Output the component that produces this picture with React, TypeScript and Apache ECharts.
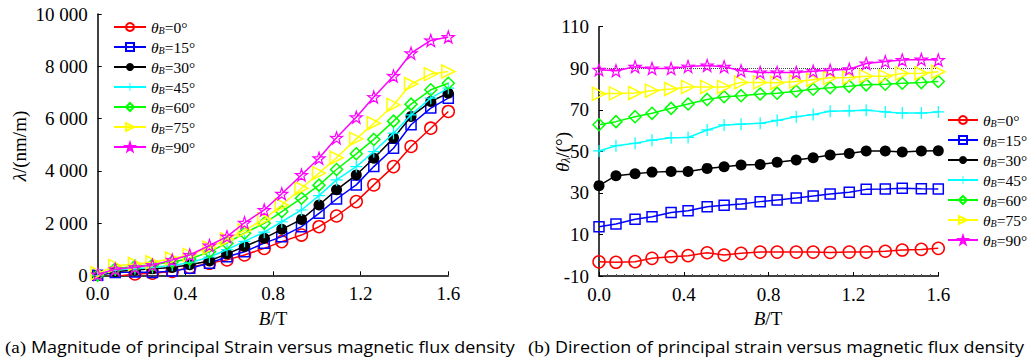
import React, { useEffect, useRef } from "react";
import * as echarts from "echarts";

// Magnetic flux density B (T) at each measured point
const B = [0, 0.08, 0.17, 0.25, 0.34, 0.42, 0.51, 0.59, 0.67, 0.76, 0.84, 0.93, 1.01, 1.09, 1.18, 1.26, 1.35, 1.43, 1.52, 1.6];

// Field angles θB (degrees)
const ANGLES = [0, 15, 30, 45, 60, 75, 90];

// (a) principal strain magnitude λ, nm/m
const lam0 = [-50, -50, 50, 80, 150, 300, 460, 590, 780, 1030, 1290, 1540, 1860, 2270, 2820, 3460, 4160, 4930, 5630, 6270];
const lam15 = [0, 110, 130, 110, 160, 270, 460, 710, 900, 1230, 1480, 1860, 2370, 2920, 3460, 4160, 4860, 5760, 6400, 6780];
const lam30 = [0, 150, 200, 250, 300, 400, 550, 820, 1100, 1420, 1760, 2140, 2690, 3270, 3840, 4480, 5250, 6080, 6650, 6970];
const lam45 = [0, 200, 250, 300, 380, 480, 700, 980, 1300, 1650, 2050, 2500, 3050, 3650, 4160, 4730, 5440, 6140, 6780, 7160];
const lam60 = [0, 250, 350, 400, 520, 620, 900, 1230, 1610, 1990, 2440, 2950, 3450, 4050, 4650, 5200, 5900, 6550, 7100, 7350];
const lam75 = [80, 360, 430, 500, 640, 780, 1060, 1380, 1720, 2150, 2690, 3330, 3910, 4500, 5220, 5820, 6520, 7320, 7700, 7800];
const lam90 = [30, 230, 310, 390, 590, 780, 1140, 1480, 2010, 2500, 3120, 3840, 4480, 5260, 6050, 6820, 7630, 8500, 8990, 9120];

// (b) principal strain direction θλ, degrees
const dir0 = [-3.2, -3.4, -3.1, -1.5, -0.7, -0.2, 1.2, 0.1, 0.9, 1.5, 1.5, 1.5, 1.5, 1.3, 1.5, 1.5, 1.9, 2.5, 2.8, 3.3];
const dir15 = [13.7, 15.0, 17.3, 18.5, 20.6, 21.4, 23.3, 24.0, 24.6, 25.8, 26.6, 27.5, 28.5, 29.5, 30.3, 31.7, 31.9, 32.2, 32.0, 31.9];
const dir30 = [33.5, 38.3, 39.2, 40.0, 40.3, 40.3, 41.8, 42.6, 43.4, 43.7, 44.7, 45.8, 46.9, 48.2, 49.0, 50.2, 50.2, 49.7, 50.2, 50.3];
const dir45 = [50.2, 52.7, 53.9, 55.4, 56.6, 56.7, 60.3, 62.7, 63.1, 63.5, 64.9, 66.7, 67.7, 69.3, 69.5, 69.8, 69.0, 68.4, 68.4, 69.0];
const dir60 = [62.8, 64.3, 66.7, 68.3, 70.7, 72.8, 75.0, 76.3, 76.8, 77.6, 78.0, 78.9, 79.9, 80.6, 81.3, 82.0, 82.3, 82.8, 83.1, 83.6];
const dir75 = [77.7, 77.9, 78.1, 79.2, 80.0, 81.0, 81.0, 81.0, 83.2, 83.2, 83.0, 83.6, 84.5, 85.4, 85.5, 86.2, 86.2, 87.5, 87.6, 88.3];
const dir90 = [89.3, 88.8, 90.7, 89.9, 89.9, 90.8, 91.3, 90.7, 88.8, 88.0, 88.0, 88.0, 88.6, 89.0, 89.5, 92.3, 93.2, 94.0, 94.2, 94.0];

// Reference line for θλ
const REF_ANGLE = 90;

const magnitude = [lam0, lam15, lam30, lam45, lam60, lam75, lam90];
const direction = [dir0, dir15, dir30, dir45, dir60, dir75, dir90];

const COLORS = ["#ff0000", "#0000ff", "#000000", "#00ffff", "#00ff00", "#ffff00", "#ff00ff"];

const STAR =
  "path://M50,0 L61.8,35.1 L97.6,34.5 L69,56 L79.4,90.5 L50,70 L20.6,90.5 L31,56 L2.4,34.5 L38.2,35.1 Z";
const PLUS = "path://M45,0H55V45H100V55H55V100H45V55H0V45H45Z";

const SERIF = "Liberation Serif";
const SANS = "Open Sans";

type Mark = { symbol: string; size: number; hollow: boolean; rotate?: number; border?: number };
const MARKS: Mark[] = [
  { symbol: "circle", size: 12, hollow: true },
  { symbol: "rect", size: 10, hollow: true },
  { symbol: "circle", size: 11, hollow: false },
  { symbol: PLUS, size: 12, hollow: false },
  { symbol: "diamond", size: 12, hollow: true },
  { symbol: "triangle", size: 13, hollow: true, rotate: -90 },
  { symbol: STAR, size: 12, hollow: true, border: 1.2 },
];

const tok = (size: number, italic = false, extra: any = {}) => ({
  fontFamily: SERIF,
  fontStyle: italic ? "italic" : "normal",
  fontSize: size,
  fill: "#000",
  color: "#000",
  ...extra,
});

const legendRich = {
  t: tok(15.5, true, { lineHeight: 17 }),
  s: tok(10, true, { lineHeight: 10, verticalAlign: "bottom" }),
  n: tok(15.5, false, { lineHeight: 17 }),
};

function legendLabel(name: string) {
  return `{t|θ}{s|B}{n|=${name.slice(1)}°}`;
}

function thousands(v: number) {
  if (v < 1000) return String(v);
  const k = Math.floor(v / 1000);
  const r = String(v % 1000).padStart(3, "0");
  return `${k} ${r}`;
}

function measure(parts: [string, string][]) {
  const ctx = document.createElement("canvas").getContext("2d");
  if (!ctx) return 0;
  let w = 0;
  for (const [text, font] of parts) {
    ctx.font = font;
    w += ctx.measureText(text).width;
  }
  return w;
}

function buildSeries(prefix: string, data: number[][], axisIndex: number) {
  return data.map((vals, i) => {
    const m = MARKS[i];
    const c = COLORS[i];
    const s: any = {
      type: "line",
      name: `${prefix}${ANGLES[i]}`,
      xAxisIndex: axisIndex,
      yAxisIndex: axisIndex,
      data: vals.map((v, j) => [B[j], v]),
      symbol: m.symbol,
      symbolSize: m.size,
      symbolRotate: m.rotate ?? 0,
      showAllSymbol: true,
      lineStyle: { color: c, width: 1.5 },
      itemStyle: m.hollow
        ? { color: "rgba(255,255,255,0)", borderColor: c, borderWidth: m.border ?? 1.5 }
        : { color: c, borderWidth: 0 },
      emphasis: { disabled: true },
      z: 3 + i,
    };
    return s;
  });
}

export default function App() {
  const ref = useRef<HTMLDivElement>(null);

  useEffect(() => {
    if (!ref.current) return;
    document.body.style.margin = "0";
    const chart = echarts.init(ref.current, undefined, { renderer: "svg" });

    const capA: [string, string][] = [
      ["(a) ", `17px "${SERIF}"`],
      ["Magnitude of principal Strain versus magnetic flux density", `16px "${SANS}"`],
    ];
    const capB: [string, string][] = [
      ["(b) ", `17px "${SERIF}"`],
      ["Direction of principal strain versus magnetic flux density", `16px "${SANS}"`],
    ];
    const wA = measure(capA) || 510;
    const wB = measure(capB) || 496;

    const capRich = {
      p: { fontFamily: SERIF, fontSize: 17, fill: "#000" },
      c: { fontFamily: SANS, fontSize: 16, fill: "#000" },
    };

    const axisLine = { show: true, onZero: false, lineStyle: { color: "#000", width: 1.5 } };
    const axisLabel = { color: "#000", fontFamily: SERIF, fontSize: 19 };

    const leftSeries = buildSeries("a", magnitude, 0);
    const rightSeries = buildSeries("b", direction, 1);
    rightSeries[0].markLine = {
      silent: true,
      symbol: "none",
      label: { show: false },
      lineStyle: { type: "dotted", color: "#444", width: 1 },
      emphasis: { disabled: true },
      data: [{ yAxis: REF_ANGLE }],
    };

    const legendBase = {
      orient: "vertical",
      itemHeight: 10,
      itemGap: 3.5,
      formatter: legendLabel,
      textStyle: { fontFamily: SERIF, fontSize: 15.5, color: "#000", rich: legendRich },
      selectedMode: false,
    };

    const option: any = {
      animation: false,
      backgroundColor: "#fff",
      textStyle: { fontFamily: SERIF },
      grid: [
        { left: 97.7, top: 14, width: 350.6, height: 261.3 },
        { left: 599, top: 26.7, width: 339.3, height: 249.3 },
      ],
      xAxis: [0, 1].map((g) => ({
        type: "value",
        gridIndex: g,
        min: 0,
        max: 1.6,
        interval: 0.4,
        axisLine,
        axisTick: { show: true, inside: true, length: 4, lineStyle: { color: "#000" } },
        minorTick: g === 1 ? { show: true, splitNumber: 10, length: 2, lineStyle: { color: "#555" } } : { show: false },
        splitLine: { show: false },
        axisLabel: { ...axisLabel, margin: 9, formatter: (v: number) => v.toFixed(1) },
      })),
      yAxis: [
        {
          type: "value",
          gridIndex: 0,
          min: 0,
          max: 10000,
          interval: 2000,
          axisLine,
          axisTick: { show: true, inside: true, length: 4, lineStyle: { color: "#000" } },
          splitLine: { show: false },
          axisLabel: { ...axisLabel, margin: 10, formatter: thousands },
        },
        {
          type: "value",
          gridIndex: 1,
          min: -10,
          max: 110,
          interval: 20,
          axisLine,
          axisTick: { show: true, inside: true, length: 4, lineStyle: { color: "#000" } },
          splitLine: { show: false },
          axisLabel: { ...axisLabel, margin: 10 },
        },
      ],
      legend: [
        { ...legendBase, left: 108, top: 14, itemWidth: 32, data: ANGLES.map((a) => `a${a}`) },
        { ...legendBase, left: 942, top: 107, itemWidth: 30, data: ANGLES.map((a) => `b${a}`) },
      ],
      graphic: [
        {
          type: "text",
          x: 19,
          y: 146,
          rotation: Math.PI / 2,
          style: {
            text: "{i|λ}{n|/(nm/m)}",
            fontFamily: SERIF,
            fontSize: 19,
            fill: "#000",
            align: "center",
            verticalAlign: "middle",
            rich: { i: tok(19, true), n: tok(19) },
          },
        },
        {
          type: "text",
          x: 562,
          y: 152,
          rotation: Math.PI / 2,
          style: {
            text: "{i|θ}{s|λ}{n|/(°)}",
            fontFamily: SERIF,
            fontSize: 19,
            fill: "#000",
            align: "center",
            verticalAlign: "middle",
            rich: {
              i: tok(19, true, { lineHeight: 19 }),
              s: tok(12, true, { lineHeight: 12, verticalAlign: "bottom" }),
              n: tok(19, false, { lineHeight: 19 }),
            },
          },
        },
        ...[273, 768].map((x) => ({
          type: "text",
          x,
          y: 318,
          style: {
            text: "{i|B}{n|/T}",
            fontFamily: SERIF,
            fontSize: 19,
            fill: "#000",
            align: "center",
            verticalAlign: "middle",
            rich: { i: tok(19, true), n: tok(19) },
          },
        })),
        {
          type: "text",
          x: 5,
          y: 347,
          scaleX: 510 / wA,
          style: {
            text: `{p|${capA[0][0]}}{c|${capA[1][0]}}`,
            fontFamily: SANS,
            fontSize: 16,
            fill: "#000",
            align: "left",
            verticalAlign: "middle",
            rich: capRich,
          },
        },
        {
          type: "text",
          x: 528,
          y: 347,
          scaleX: 496 / wB,
          style: {
            text: `{p|${capB[0][0]}}{c|${capB[1][0]}}`,
            fontFamily: SANS,
            fontSize: 16,
            fill: "#000",
            align: "left",
            verticalAlign: "middle",
            rich: capRich,
          },
        },
      ],
      series: [...leftSeries, ...rightSeries],
    };

    chart.setOption(option);
    return () => chart.dispose();
  }, []);

  return (
    <div
      ref={ref}
      style={{ position: "absolute", left: 0, top: 0, width: 1029, height: 363 }}
    />
  );
}
